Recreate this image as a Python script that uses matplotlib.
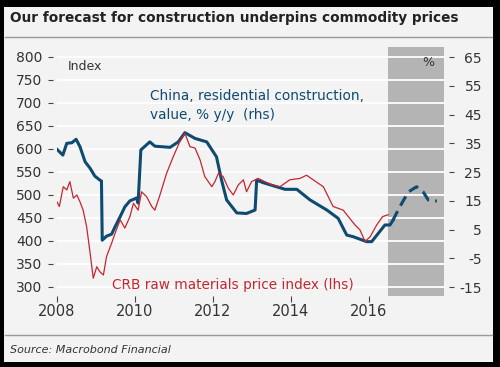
import matplotlib.pyplot as plt
from matplotlib.lines import Line2D
from matplotlib.patches import Rectangle

plt.rcParams['axes.unicode_minus'] = False
plt.rcParams['font.family'] = ['DejaVu Sans']

# CRB raw materials price index (lhs)
crb_years = [2008.00, 2008.06, 2008.16, 2008.25, 2008.33, 2008.42, 2008.51, 2008.59,
             2008.67, 2008.76, 2008.85, 2008.93, 2009.02, 2009.10, 2009.19, 2009.27,
             2009.40, 2009.49, 2009.62, 2009.74, 2009.87, 2009.96, 2010.08, 2010.17,
             2010.30, 2010.43, 2010.51, 2010.64, 2010.81, 2010.98, 2011.15, 2011.28,
             2011.41, 2011.54, 2011.67, 2011.79, 2011.97, 2012.05, 2012.14, 2012.26,
             2012.39, 2012.52, 2012.65, 2012.78, 2012.86, 2012.99, 2013.16, 2013.33,
             2013.51, 2013.72, 2013.97, 2014.23, 2014.40, 2014.57, 2014.83, 2015.08,
             2015.34, 2015.47, 2015.64, 2015.77, 2015.90, 2016.03, 2016.20, 2016.35,
             2016.49]
crb = [485, 475, 518, 511, 529, 493, 500, 485,
       467, 431, 373, 319, 344, 333, 326, 366,
       395, 417, 446, 428, 453, 482, 467, 507,
       496, 475, 467, 500, 547, 583, 616, 634,
       605, 602, 576, 540, 518, 529, 547, 540,
       515, 500, 522, 533, 507, 529, 536, 529,
       522, 518, 533, 536, 543, 533, 518, 475,
       467, 453, 435, 424, 399, 409, 435, 453,
       457]

# China residential construction value, % y/y (rhs)
china_years = [2008.00, 2008.15, 2008.25, 2008.38, 2008.49, 2008.59, 2008.72, 2008.85,
               2008.97, 2009.10, 2009.14, 2009.16, 2009.27, 2009.40, 2009.49, 2009.62,
               2009.74, 2009.87, 2009.96, 2010.04, 2010.08, 2010.15, 2010.38, 2010.51,
               2010.90, 2011.11, 2011.28, 2011.54, 2011.84, 2012.09, 2012.22, 2012.35,
               2012.61, 2012.86, 2013.08, 2013.12, 2013.29, 2013.63, 2013.85, 2014.15,
               2014.49, 2014.92, 2015.21, 2015.43, 2015.60, 2015.94, 2016.07, 2016.24,
               2016.41, 2016.54, 2016.61]
china = [32.9, 30.9, 35.0, 35.2, 36.4, 33.8, 28.6, 26.3,
         23.6, 22.2, 21.9, 1.3, 2.7, 3.4, 6.0, 9.5,
         12.9, 15.0, 15.5, 16.0, 14.2, 32.7, 35.5, 34.0,
         33.6, 35.5, 38.7, 36.7, 35.5, 30.3, 22.2, 15.3,
         10.8, 10.6, 11.8, 22.2, 21.3, 19.9, 19.0, 19.0,
         15.3, 11.8, 8.9, 3.1, 2.5, 0.8, 0.8, 3.7,
         6.6, 6.6, 8.1]

# Forecast (dashed)
fc_years = [2016.61, 2016.79, 2017.01, 2017.22, 2017.39, 2017.52, 2017.74]
fc = [8.1, 12.9, 18.1, 19.9, 18.1, 15.3, 14.9]

year_ticks = [2008, 2010, 2012, 2014, 2016]
left_ticks = list(range(300, 801, 50))
right_ticks = list(range(-15, 66, 10))

blue = '#0f4a71'
red = '#c4262e'
bg = '#f3f3f3'

fig = plt.figure(figsize=(5, 3.67), dpi=100)
fig.patch.set_facecolor('black')
fig.add_artist(Rectangle((0.008, 0.0136), 0.978, 0.968, transform=fig.transFigure,
                         facecolor=bg, edgecolor='none', zorder=0))

# separators
fig.add_artist(Line2D([0.01, 0.984], [0.898, 0.898], color='#9a9a9a', lw=1))
fig.add_artist(Line2D([0.01, 0.984], [0.087, 0.087], color='#9a9a9a', lw=1))

ax = fig.add_axes([0.114, 0.1935, 0.776, 0.6784])
ax.set_facecolor(bg)
ax.set_xlim(2008, 2017.95)
ax.set_ylim(280.4, 821.7)
ax.axvspan(2016.49, 2017.92, color='#b4b4b4', lw=0, zorder=0.2)
ax.set_axisbelow(True)
ax.grid(axis='y', color='white', lw=1.3)
ax.set_yticks(left_ticks)
ax.set_xticks(year_ticks)
for s in ax.spines.values():
    s.set_visible(False)
ax.spines['left'].set_position(('outward', 3))
ax.tick_params(axis='y', length=3.6, width=0.8, color='#444', pad=4,
               labelsize=10, labelcolor='#333')
ax.tick_params(axis='x', length=4, width=0.8, color='#444', pad=2,
               labelsize=10.5, labelcolor='#333')

ax2 = ax.twinx()
ax2.set_ylim(-18.1, 68.5)
ax2.set_yticks(right_ticks)
for s in ax2.spines.values():
    s.set_visible(False)
ax2.spines['right'].set_position(('outward', 3))
ax2.tick_params(axis='y', length=3.6, width=0.8, color='#444', pad=20,
                labelsize=10, labelcolor='#333')
for lab in ax2.get_yticklabels():
    lab.set_horizontalalignment('right')

ax2.plot(china_years, china, color=blue, lw=2.2, solid_joinstyle='round', zorder=3)
ax2.plot(fc_years, fc, color=blue, lw=2.2, ls=(0, (3.5, 2)), zorder=3)
ax2.plot(crb_years, crb, color=red, lw=0.9, transform=ax.transData, zorder=4)

fig.text(0.02, 0.951, 'Our forecast for construction underpins commodity prices',
         fontsize=9.8, fontweight='bold', va='center', color='#222')
fig.text(0.136, 0.820, 'Index', fontsize=9, va='center', color='#333')
fig.text(0.856, 0.831, '%', fontsize=9, va='center', ha='center', color='#333')
fig.text(0.30, 0.738, 'China, residential construction,', fontsize=9.8,
         va='center', color=blue)
fig.text(0.30, 0.687, 'value, % y/y  (rhs)', fontsize=9.8, va='center', color=blue)
fig.text(0.224, 0.2234, 'CRB raw materials price index (lhs)', fontsize=9.8,
         va='center', color=red)
fig.text(0.02, 0.046, 'Source: Macrobond Financial', fontsize=8, style='italic',
         va='center', color='#333')

fig.savefig('out.png', dpi=100, facecolor=fig.get_facecolor())
